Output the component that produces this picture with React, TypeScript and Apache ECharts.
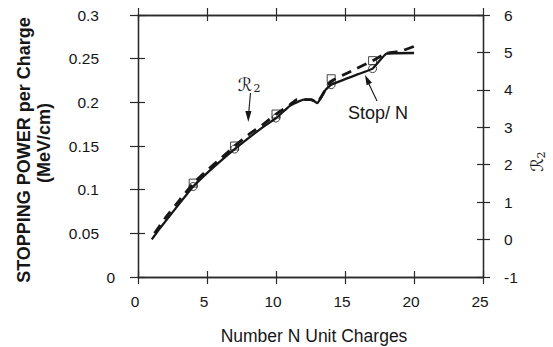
import React, { useEffect, useRef } from 'react';
import * as echarts from 'echarts';

// Stopping power per charge (MeV/cm) vs number N of unit charges – solid curve
const stopPerN: [number, number][] = [
  [1, 0.043], [1.5, 0.054], [2, 0.064], [3, 0.084], [4, 0.1036], [5, 0.119],
  [6, 0.133], [7, 0.1465], [8, 0.159], [9, 0.171], [10, 0.182], [11, 0.196],
  [11.5, 0.2], [12, 0.203], [12.6, 0.203], [13, 0.199], [13.6, 0.2145],
  [14, 0.2202], [15, 0.2265], [16, 0.2325], [17, 0.2386], [18, 0.2558], [20, 0.2565],
];

// R2 (right axis) – dashed curve
const r2Curve: [number, number][] = [
  [1.2, 0.17], [2, 0.59], [3, 1.05], [4, 1.5], [5, 1.85], [6, 2.17], [7, 2.5],
  [8, 2.8], [9, 3.06], [10, 3.35], [11, 3.6], [11.5, 3.74], [12.5, 3.74],
  [13, 3.67], [13.6, 4.02], [14, 4.23], [15.5, 4.51], [17, 4.78], [18, 4.98],
  [19, 5.03], [20, 5.16],
];

// Data markers
const markN = [4, 7, 10, 14, 17];
const squareVals = [0.1075, 0.15, 0.1866, 0.227, 0.2477];
const circleVals = [0.1036, 0.1465, 0.182, 0.2202, 0.2386];

// Axis ranges
const xRange = { min: 0, max: 25, interval: 5 };
const yLeftRange = { min: 0, max: 0.3, interval: 0.05 };
const yRightRange = { min: -1, max: 6, interval: 1 };

const FONT = 'Liberation Sans, Arial, Helvetica, sans-serif';
const INK = '#161616';

export default function App() {
  const ref = useRef<HTMLDivElement>(null);

  useEffect(() => {
    if (!ref.current) return;
    const chart = echarts.init(ref.current, undefined, { renderer: 'svg' });

    const axisLine = { show: true, onZero: false, lineStyle: { color: '#2a2a2a', width: 1.3 } };
    const tickStyle = { color: '#2a2a2a', width: 1.2 };
    const noSplit = { show: false };

    const xBase = { type: 'value' as const, ...xRange, axisLine, splitLine: noSplit };
    const yLBase = { type: 'value' as const, ...yLeftRange, axisLine, splitLine: noSplit };
    const yRBase = { type: 'value' as const, ...yRightRange, axisLine, splitLine: noSplit };

    const labelStyle = { fontSize: 15.5, color: INK, fontFamily: FONT };

    chart.setOption({
      animation: false,
      backgroundColor: '#ffffff',
      grid: { left: 138, top: 15, right: 70, bottom: 70, containLabel: false },
      xAxis: [
        {
          ...xBase, position: 'bottom',
          axisTick: { show: true, inside: false, length: 7, lineStyle: tickStyle },
          axisLabel: { ...labelStyle, margin: 16, padding: [0, 6, 0, 0] },
        },
        {
          ...xBase, position: 'bottom',
          axisTick: { show: true, inside: true, length: 6, lineStyle: tickStyle },
          axisLabel: { show: false },
        },
        {
          ...xBase, position: 'top',
          axisTick: { show: true, inside: false, length: 7, lineStyle: tickStyle },
          axisLabel: { show: false },
        },
        {
          ...xBase, position: 'top',
          axisTick: { show: true, inside: true, length: 6, lineStyle: tickStyle },
          axisLabel: { show: false },
        },
      ],
      yAxis: [
        {
          ...yLBase, position: 'left',
          axisTick: { show: true, inside: false, length: 8, lineStyle: tickStyle },
          axisLabel: {
            ...labelStyle, margin: 39,
            formatter: (v: number) => (v === 0 ? '' : String(+v.toFixed(2))),
          },
        },
        {
          ...yLBase, position: 'left',
          axisTick: { show: true, inside: true, length: 7, lineStyle: tickStyle },
          axisLabel: {
            ...labelStyle, margin: 23,
            formatter: (v: number) => (v === 0 ? '0' : ''),
          },
        },
        {
          ...yRBase, position: 'right',
          axisTick: { show: true, inside: false, length: 7, lineStyle: tickStyle },
          axisLabel: { ...labelStyle, margin: 21 },
        },
        {
          ...yRBase, position: 'right',
          axisTick: { show: true, inside: true, length: 6, lineStyle: tickStyle },
          axisLabel: { show: false },
        },
      ],
      series: [
        {
          name: 'Stop/ N', type: 'line', xAxisIndex: 0, yAxisIndex: 0,
          data: stopPerN, showSymbol: false, symbol: 'none', smooth: 0.1,
          lineStyle: { color: INK, width: 2.3 }, z: 3,
        },
        {
          name: 'R2', type: 'line', xAxisIndex: 0, yAxisIndex: 2,
          data: r2Curve, showSymbol: false, symbol: 'none', smooth: 0.1,
          lineStyle: { color: INK, width: 2.8, type: [10, 7] }, z: 4,
        },
        {
          name: 'squares', type: 'scatter', xAxisIndex: 0, yAxisIndex: 0,
          data: markN.map((n, i) => [n, squareVals[i]]),
          symbol: 'rect', symbolSize: 8,
          itemStyle: { color: 'rgba(0,0,0,0)', borderColor: INK, borderWidth: 1 }, z: 5,
        },
        {
          name: 'circles', type: 'scatter', xAxisIndex: 0, yAxisIndex: 0,
          data: markN.map((n, i) => [n, circleVals[i]]),
          symbol: 'circle', symbolSize: 8,
          itemStyle: { color: 'rgba(0,0,0,0)', borderColor: INK, borderWidth: 1 }, z: 5,
        },
      ],
      graphic: [
        // left axis title (two rotated lines)
        {
          type: 'text', x: 24, y: 150, rotation: Math.PI / 2,
          style: {
            text: 'STOPPING POWER per Charge', font: `bold 18px ${FONT}`,
            fill: INK, align: 'center', verticalAlign: 'middle',
          },
        },
        {
          type: 'text', x: 44, y: 143, rotation: Math.PI / 2,
          style: {
            text: '(MeV/cm)', font: `bold 18px ${FONT}`,
            fill: INK, align: 'center', verticalAlign: 'middle',
          },
        },
        // bottom axis title
        {
          type: 'text', x: 314, y: 336,
          style: {
            text: 'Number N Unit Charges', font: `17.5px ${FONT}`,
            fill: INK, align: 'center', verticalAlign: 'middle',
          },
        },
        // right axis title R2
        {
          type: 'group', x: 537, y: 162, rotation: Math.PI / 2,
          children: [
            {
              type: 'text', x: -3, y: 0,
              style: {
                text: 'ℛ', font: `italic 17px DejaVu Serif, DejaVu Sans, serif`,
                fill: INK, align: 'center', verticalAlign: 'middle',
              },
            },
            {
              type: 'text', x: 7, y: 4,
              style: {
                text: '2', font: `11px DejaVu Serif, serif`,
                fill: INK, align: 'center', verticalAlign: 'middle',
              },
            },
          ],
        },
        // R2 annotation
        {
          type: 'text', x: 245, y: 84,
          style: {
            text: 'ℛ', font: `italic 18px DejaVu Serif, DejaVu Sans, serif`,
            fill: INK, align: 'center', verticalAlign: 'middle',
          },
        },
        {
          type: 'text', x: 257, y: 88,
          style: {
            text: '2', font: `11px DejaVu Serif, serif`,
            fill: INK, align: 'center', verticalAlign: 'middle',
          },
        },
        {
          type: 'line', shape: { x1: 250.5, y1: 93, x2: 248.7, y2: 113 },
          style: { stroke: INK, lineWidth: 1.1 },
        },
        {
          type: 'polygon', shape: { points: [[248.3, 122], [245.3, 111], [251.5, 111]] },
          style: { fill: INK },
        },
        // Stop/N annotation
        {
          type: 'text', x: 348, y: 113,
          style: {
            text: 'Stop/ N', font: `18px ${FONT}`,
            fill: INK, align: 'left', verticalAlign: 'middle',
          },
        },
        {
          type: 'line', shape: { x1: 377, y1: 101, x2: 368, y2: 82 },
          style: { stroke: INK, lineWidth: 1.1 },
        },
        {
          type: 'polygon', shape: { points: [[365, 75], [372, 82.7], [366.6, 85.3]] },
          style: { fill: INK },
        },
      ],
    });

    return () => chart.dispose();
  }, []);

  return (
    <div
      ref={ref}
      style={{ position: 'fixed', left: 0, top: 0, width: 553, height: 347, background: '#fff' }}
    />
  );
}
